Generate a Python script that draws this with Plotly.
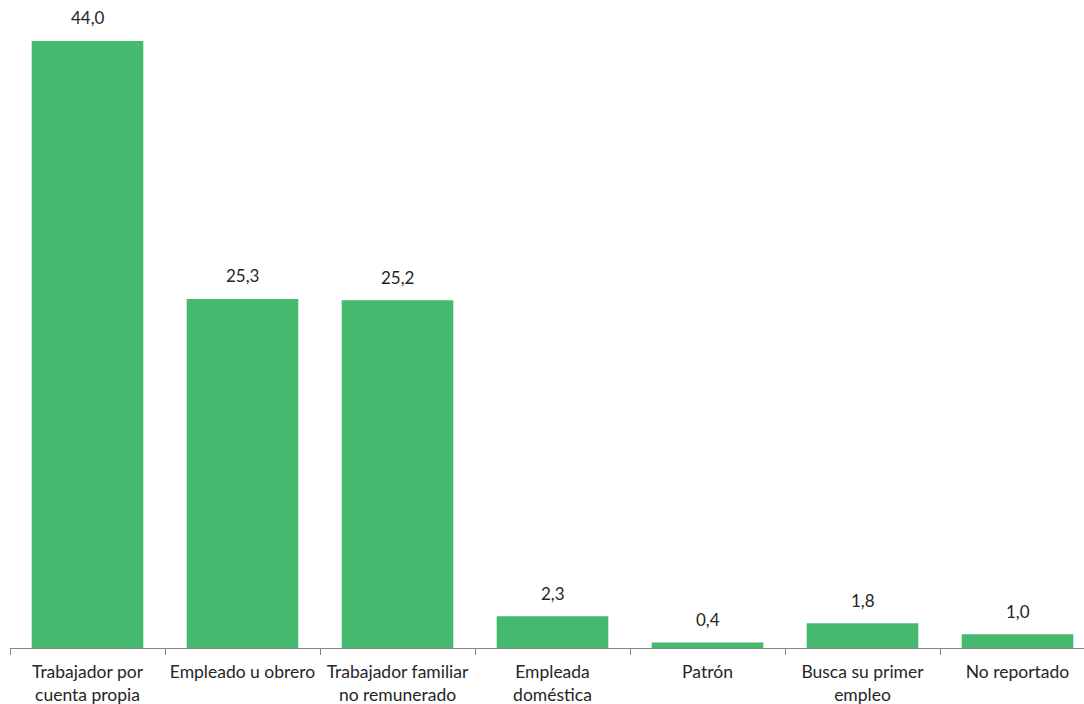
import plotly.graph_objects as go

categories = [
    "Trabajador por<br>cuenta propia",
    "Empleado u obrero",
    "Trabajador familiar<br>no remunerado",
    "Empleada<br>doméstica",
    "Patrón",
    "Busca su primer<br>empleo",
    "No reportado",
]
values = [44.0, 25.3, 25.2, 2.3, 0.4, 1.8, 1.0]

bar_color = "#45BA6F"
text_color = "#262626"
font_family = "Lato, 'Open Sans', sans-serif"

fig = go.Figure()
fig.add_trace(go.Bar(
    x=categories,
    y=values,
    marker=dict(color=bar_color, line=dict(width=0)),
    width=0.72,
    hoverinfo="skip",
))

# value labels above each bar, decimal comma
for cat, v in zip(categories, values):
    fig.add_annotation(
        x=cat, y=v, xref="x", yref="y",
        text=f"{v:.1f}".replace(".", ","),
        showarrow=False, yanchor="middle", yshift=23,
        font=dict(family=font_family, size=17, color=text_color),
    )

fig.update_layout(
    width=1084, height=704,
    margin=dict(l=10, r=0, t=0, b=56),
    paper_bgcolor="white", plot_bgcolor="white",
    showlegend=False,
    font=dict(family=font_family, size=17.5, color=text_color),
    xaxis=dict(
        type="category",
        range=[-0.5, 6.429],
        automargin=False,
        tickangle=0,
        showline=True, linecolor="#868686", linewidth=1,
        ticks="outside", tickson="boundaries", ticklen=6, tickcolor="#868686",
        ticklabelstandoff=8,
        showgrid=False, zeroline=False,
        tickfont=dict(family=font_family, size=17.5, color=text_color),
    ),
    yaxis=dict(
        range=[0, 46.97],
        visible=False, showgrid=False, zeroline=False,
    ),
)

fig.write_html("out.html")
